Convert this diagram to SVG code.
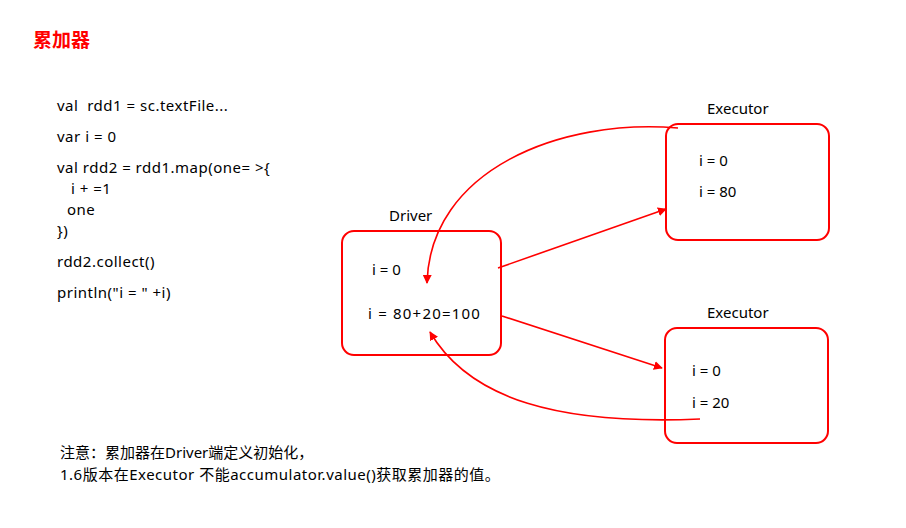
<svg xmlns="http://www.w3.org/2000/svg" width="906" height="528" viewBox="0 0 906 528">
<style>
text{font-family:"Noto Sans","Noto Sans CJK SC",sans-serif;font-size:15px;fill:#000}
.w{letter-spacing:0.5px}
.box{fill:#fff;stroke:#f00;stroke-width:2}
.c{fill:none;stroke:#f00;stroke-width:1.6}
</style>
<defs><marker id="a" viewBox="0 0 10 10" refX="9" refY="5" markerWidth="9" markerHeight="9" orient="auto" markerUnits="userSpaceOnUse"><path d="M0,0L10,5L0,10z" fill="#f00"/></marker></defs>
<rect width="906" height="528" fill="#fff"/>
<text x="33" y="47" style="font-size:19px;font-weight:bold;fill:#f00">累加器</text>
<g id="code" class="w">
<text x="57" y="111">val &#160;rdd1 = sc.textFile...</text>
<text x="57" y="142">var i = 0</text>
<text x="57" y="173">val rdd2 = rdd1.map(one= &gt;{</text>
<text x="71" y="194">i + =1</text>
<text x="67" y="215">one</text>
<text x="57" y="236">})</text>
<text x="57" y="267">rdd2.collect()</text>
<text x="57" y="298">println("i = " +i)</text>
</g>
<g id="driver"><text x="389" y="221">Driver</text><rect class="box" x="342" y="231" width="159" height="124" rx="12"/><text x="372" y="275">i = 0</text><text x="368" y="319" style="letter-spacing:1.2px">i = 80+20=100</text></g>
<g id="executor1"><text x="707" y="114">Executor</text><rect class="box" x="666" y="124" width="163" height="116" rx="12"/><text x="699" y="166">i = 0</text><text x="699" y="197">i = 80</text></g>
<g id="executor2"><text x="707" y="318">Executor</text><rect class="box" x="665" y="328" width="163" height="115" rx="12"/><text x="692" y="376">i = 0</text><text x="692" y="408">i = 20</text></g>
<g id="notes">
<text x="60" y="458">注意：累加器在Driver端定义初始化，</text>
<text x="60" y="480" style="letter-spacing:0.5px">1.6版本在Executor 不能accumulator.value()获取累加器的值。</text>
</g>
<g id="connectors">
<path class="c" d="M678,128 C560,118 430,170 427,283" marker-end="url(#a)"/>
<path class="c" d="M498,268 L666,209" marker-end="url(#a)"/>
<path class="c" d="M502,316 L662,368" marker-end="url(#a)"/>
<path class="c" d="M700,419 C560,425 470,400 430,332" marker-end="url(#a)"/>
</g>
</svg>
